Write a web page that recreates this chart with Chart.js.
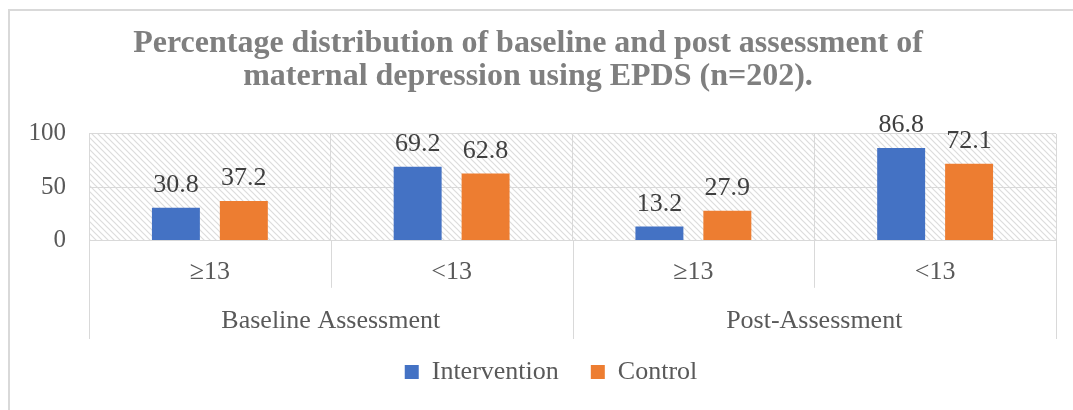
<!DOCTYPE html>
<html>
<head>
<meta charset="utf-8">
<script src="https://cdn.jsdelivr.net/npm/chart.js@4.4.0/dist/chart.umd.min.js"></script>
<style>
  html, body { margin: 0; padding: 0; background: #fff; }
  #wrap { position: relative; width: 1073px; height: 410px; overflow: hidden; }
  #frame { position: absolute; left: 8px; top: 9px; width: 1200px; height: 500px; border-left: 2px solid #d9d9d9; border-top: 2px solid #d9d9d9; }
  canvas { position: absolute; left: 0; top: 0; }
</style>
</head>
<body>
<div id="wrap"><div id="frame"></div><canvas id="chart" width="1073" height="410"></canvas></div>
<script>
// --- datos ---
const titleLines = ['Percentage distribution of baseline and post assessment of', 'maternal depression using EPDS (n=202).'];
const categories = ['≥13', '<13', '≥13', '<13'];
const groups = ['Baseline Assessment', 'Post-Assessment'];
const seriesNames = ['Intervention', 'Control'];
const intervention = [30.8, 69.2, 13.2, 86.8];
const control = [37.2, 62.8, 27.9, 72.1];
const yTicks = [0, 50, 100];

const FONT = '"Liberation Serif", "Times New Roman", serif';
const GRID = '#d9d9d9';
const TEXT = '#595959';

// fondo rayado del área del gráfico
const hatchTile = (() => {
    const s = 6;
    const c = document.createElement('canvas');
    c.width = c.height = s;
    const g = c.getContext('2d');
    g.strokeStyle = '#dcdcdc';
    g.lineWidth = 1.2;
    g.beginPath();
    g.moveTo(0, 0); g.lineTo(s, s);
    g.moveTo(-1, s - 1); g.lineTo(1, s + 1);
    g.moveTo(s - 1, -1); g.lineTo(s + 1, 1);
    g.stroke();
    return c;
})();

const hatchPlugin = {
    id: 'hatch',
    beforeDraw(chart) {
        const { ctx, chartArea: a } = chart;
        ctx.save();
        ctx.fillStyle = ctx.createPattern(hatchTile, 'repeat');
        ctx.fillRect(a.left, a.top, a.right - a.left, a.bottom - a.top);
        ctx.restore();
    }
};

// líneas divisorias bajo el eje de categorías
const perGroup = categories.length / groups.length;
const dividerPlugin = {
    id: 'dividers',
    afterDraw(chart) {
        const { ctx, chartArea } = chart;
        const x = chart.scales.x, x2 = chart.scales.x2;
        const half = (x.getPixelForValue(1) - x.getPixelForValue(0)) / 2;
        const innerBottom = x.bottom - x.options.ticks.padding;
        ctx.save();
        ctx.strokeStyle = GRID;
        ctx.lineWidth = 1;
        for (let i = 0; i <= categories.length; i++) {
            const px = Math.round(x.getPixelForValue(0) - half + i * 2 * half) + 0.5;
            const bottom = i % perGroup === 0 ? x2.bottom : innerBottom;
            ctx.beginPath();
            ctx.moveTo(px, chartArea.bottom);
            ctx.lineTo(px, bottom);
            ctx.stroke();
        }
        ctx.restore();
    }
};

// etiquetas de valor sobre las barras
const valueLabelPlugin = {
    id: 'valueLabels',
    afterDatasetsDraw(chart) {
        const { ctx } = chart;
        ctx.save();
        ctx.font = `26px ${FONT}`;
        ctx.fillStyle = '#404040';
        ctx.textAlign = 'center';
        ctx.textBaseline = 'alphabetic';
        chart.data.datasets.forEach((ds, di) => {
            chart.getDatasetMeta(di).data.forEach((bar, i) => {
                ctx.fillText(ds.data[i].toFixed(1), bar.x, bar.y - 16);
            });
        });
        ctx.restore();
    }
};

// la leyenda del original no está centrada con el título
const legendShift = { x: 23, y: -12 };
const legendShiftPlugin = {
    id: 'legendShift',
    afterLayout(chart) {
        const lg = chart.legend;
        lg.left += legendShift.x; lg.right += legendShift.x;
        lg.top += legendShift.y; lg.bottom += legendShift.y;
    }
};

new Chart(document.getElementById('chart'), {
    type: 'bar',
    data: {
        labels: categories,
        datasets: [
            { label: seriesNames[0], data: intervention, backgroundColor: '#4472c4', borderWidth: 0, categoryPercentage: 0.562, barPercentage: 0.706 },
            { label: seriesNames[1], data: control, backgroundColor: '#ed7d31', borderWidth: 0, categoryPercentage: 0.562, barPercentage: 0.706 }
        ]
    },
    options: {
        responsive: false,
        animation: false,
        devicePixelRatio: 1,
        layout: { padding: { left: 0, right: 17, top: 0, bottom: 11 } },
        plugins: {
            title: {
                display: true,
                text: titleLines,
                color: '#7f7f7f',
                font: { family: FONT, size: 32, weight: 'bold', lineHeight: 1.03 },
                padding: { top: 27, bottom: 41 }
            },
            legend: {
                position: 'bottom',
                maxHeight: 60,
                labels: { color: TEXT, font: { family: FONT, size: 26 }, boxWidth: 14, boxHeight: 14, padding: 32 }
            },
            tooltip: { enabled: false }
        },
        scales: {
            x: {
                offset: true,
                weight: 0,
                grid: { offset: true, color: GRID, drawTicks: false },
                border: { color: GRID },
                ticks: { color: TEXT, font: { family: FONT, size: 26 }, padding: 16, maxRotation: 0, autoSkip: false }
            },
            x2: {
                type: 'category',
                labels: groups,
                position: 'bottom',
                offset: true,
                weight: 1,
                grid: { display: false, drawTicks: false },
                border: { display: false },
                ticks: { color: TEXT, font: { family: FONT, size: 26 }, padding: 2, maxRotation: 0, autoSkip: false }
            },
            y: {
                min: 0,
                max: 100,
                afterBuildTicks: s => { s.ticks = yTicks.map(v => ({ value: v })); },
                afterFit: s => { s.width = 89; },
                grid: { color: GRID, drawTicks: false },
                border: { display: false },
                ticks: { color: TEXT, font: { family: FONT, size: 25 }, padding: 23 }
            }
        }
    },
    plugins: [hatchPlugin, dividerPlugin, valueLabelPlugin, legendShiftPlugin]
});
</script>
</body>
</html>
